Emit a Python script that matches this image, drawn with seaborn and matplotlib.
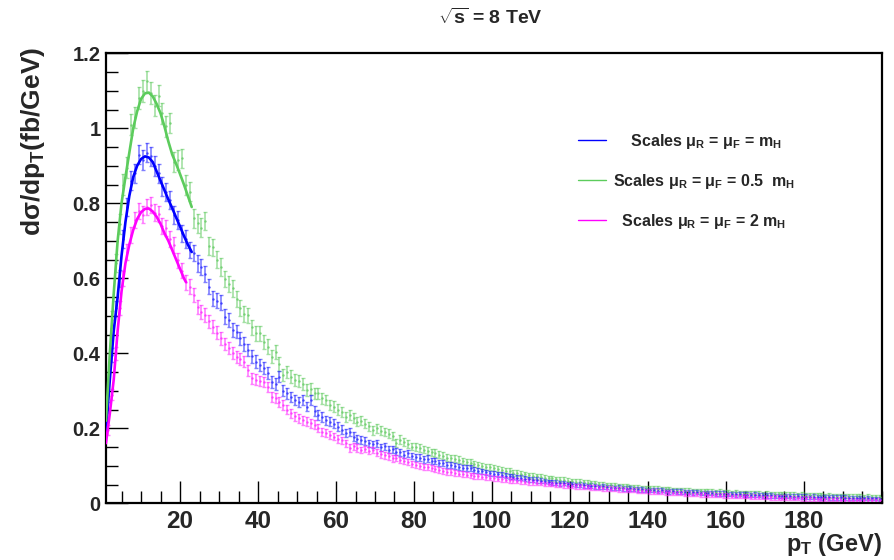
import numpy as np
import pandas as pd
import matplotlib
matplotlib.use("Agg")
import matplotlib.pyplot as plt
from matplotlib.lines import Line2D
from matplotlib.ticker import FixedLocator, MultipleLocator, FuncFormatter
import seaborn as sns

# ---------------- data ----------------
series_names = ["Scales \u03bc$_\\mathrm{R}$ = \u03bc$_\\mathrm{F}$ = m$_\\mathrm{H}$",
                "Scales \u03bc$_\\mathrm{R}$ = \u03bc$_\\mathrm{F}$ = 0.5  m$_\\mathrm{H}$",
                "Scales \u03bc$_\\mathrm{R}$ = \u03bc$_\\mathrm{F}$ = 2 m$_\\mathrm{H}$"]

# histogram binning: 1 GeV bins from 1 to 200 GeV
pt_lo, pt_hi, bin_w = 1.0, 200.0, 1.0

# bin contents in units of 1e-3 fb/GeV
blue_pts = [255, 395, 520, 600, 705, 790, 860, 880, 930, 915,
            935, 925, 900, 880, 845, 830, 810, 770, 755, 720,
            705, 675, 668, 640, 630, 612, 578, 545, 540, 535,
            498, 489, 462, 458, 440, 425, 409, 392, 378, 369,
            360, 347, 324, 318, 338, 300, 293, 284, 275, 270,
            275, 258, 275, 246, 236, 230, 222, 218, 212, 204,
            196, 187, 190, 178, 172, 169, 166, 160, 157, 160,
            149, 152, 143, 144, 138, 136, 130, 133, 126, 123,
            122, 117, 119, 113, 112, 108, 107, 103, 101, 100,
            97, 95, 93, 94, 89, 87, 85, 83, 80, 79,
            77, 76, 74, 72, 71, 68, 68, 66, 64, 63,
            62, 60, 59, 57, 55, 55, 53, 54, 51, 51,
            49, 50, 48, 46, 47, 45, 44, 45, 43, 42,
            41, 42, 40, 39, 40, 38, 37, 37, 36, 35,
            35, 34, 35, 33, 32, 33, 31, 31, 30, 30,
            29, 30, 28, 28, 27, 28, 26, 26, 26, 25,
            25, 24, 25, 23, 23, 22, 23, 22, 21, 21,
            21, 20, 20, 19, 20, 19, 18, 19, 18, 18,
            17, 18, 17, 16, 17, 16, 16, 15, 16, 15,
            15, 14, 15, 14, 13, 14, 13, 13, 12]

green_pts = [305, 490, 640, 745, 850, 895, 1010, 1030, 1080, 1100,
             1125, 1095, 1060, 1087, 1040, 1006, 1015, 911, 915, 920,
             849, 831, 760, 747, 735, 754, 687, 683, 650, 630,
             598, 585, 573, 545, 520, 505, 502, 470, 453, 453,
             430, 418, 391, 404, 372, 342, 350, 338, 329, 325,
             318, 302, 305, 293, 293, 280, 275, 262, 258, 250,
             244, 231, 236, 227, 218, 220, 212, 205, 195, 200,
             193, 191, 186, 180, 160, 170, 163, 158, 151, 150,
             147, 143, 140, 136, 134, 130, 127, 122, 120, 119,
             116, 113, 110, 108, 105, 103, 99, 98, 96, 93,
             91, 89, 86, 85, 82, 80, 79, 77, 75, 73,
             72, 70, 68, 67, 67, 64, 63, 62, 60, 59,
             58, 58, 56, 55, 53, 53, 51, 50, 49, 49,
             48, 46, 46, 45, 43, 44, 42, 41, 40, 41,
             39, 39, 38, 37, 37, 36, 35, 35, 34, 34,
             33, 33, 32, 32, 31, 31, 30, 31, 29, 29,
             28, 29, 27, 28, 27, 26, 27, 26, 25, 26,
             25, 24, 25, 24, 23, 24, 23, 22, 23, 22,
             22, 21, 22, 21, 20, 21, 20, 19, 20, 19,
             19, 18, 19, 18, 17, 18, 17, 17, 16]

magenta_pts = [195, 290, 400, 520, 600, 670, 715, 755, 780, 770,
               790, 795, 775, 772, 740, 735, 705, 688, 648, 620,
               590, 578, 555, 524, 510, 502, 485, 471, 455, 440,
               425, 413, 400, 391, 385, 378, 355, 333, 330, 326,
               324, 310, 284, 280, 271, 262, 250, 240, 232, 227,
               222, 218, 213, 210, 200, 191, 187, 182, 178, 172,
               168, 160, 147, 152, 148, 142, 145, 140, 142, 135,
               131, 128, 125, 120, 122, 116, 112, 110, 105, 102,
               100, 98, 96, 94, 91, 89, 87, 84, 83, 82,
               79, 78, 76, 75, 73, 72, 71, 70, 68, 67,
               66, 65, 63, 62, 61, 60, 59, 58, 57, 56,
               55, 54, 52, 51, 51, 49, 49, 48, 47, 46,
               45, 45, 44, 43, 42, 42, 41, 40, 39, 39,
               38, 37, 37, 36, 35, 35, 34, 33, 33, 32,
               31, 31, 30, 29, 29, 28, 28, 27, 26, 26,
               25, 25, 24, 24, 23, 23, 22, 22, 21, 21,
               20, 20, 19, 19, 19, 18, 18, 17, 17, 17,
               16, 16, 15, 15, 15, 14, 14, 14, 13, 13,
               13, 12, 12, 12, 11, 11, 11, 11, 10, 10,
               10, 10, 9, 9, 9, 9, 8, 8, 8]

# statistical errors (half length), units of 1e-3 fb/GeV
blue_err = [15, 18, 20, 22, 23, 24, 25, 25, 26, 26,
            26, 26, 26, 25, 25, 25, 24, 24, 24, 23,
            23, 22, 22, 22, 21, 21, 21, 20, 20, 20,
            19, 19, 19, 18, 18, 18, 17, 17, 17, 17,
            16, 16, 16, 15, 15, 15, 15, 14, 14, 14,
            14, 13, 13, 13, 13, 13, 12, 12, 12, 12,
            12, 11, 11, 11, 11, 11, 11, 10, 10, 10,
            10, 10, 10, 10, 9, 9, 9, 9, 9, 9,
            9, 9, 9, 8, 8, 8, 8, 8, 8, 8,
            8, 8, 8, 8, 7, 7, 7, 7, 7, 7,
            7, 7, 7, 7, 7, 7, 7, 7, 7, 7,
            7, 7, 6, 6, 6, 6, 6, 6, 6, 6,
            6, 6, 6, 6, 6, 6, 6, 6, 6, 6,
            6, 6, 6, 6, 6, 6, 6, 6, 6, 6,
            6, 6, 6, 6, 6, 6, 6, 6, 6, 6,
            6, 6, 6, 6, 6, 6, 6, 6, 6, 6,
            6, 6, 6, 6, 6, 6, 6, 6, 6, 6,
            6, 6, 6, 6, 6, 6, 6, 6, 6, 6,
            6, 6, 6, 6, 6, 6, 6, 6, 6, 6,
            5, 5, 5, 5, 5, 5, 5, 5, 5]

green_err = [18, 22, 24, 26, 27, 28, 28, 28, 29, 29,
             29, 29, 28, 28, 28, 28, 27, 27, 27, 26,
             26, 26, 25, 25, 25, 24, 24, 23, 23, 23,
             22, 22, 22, 21, 21, 21, 20, 20, 20, 19,
             19, 19, 18, 18, 18, 17, 17, 17, 16, 16,
             16, 16, 15, 15, 15, 15, 14, 14, 14, 14,
             13, 13, 13, 13, 13, 12, 12, 12, 12, 12,
             12, 11, 11, 11, 11, 11, 11, 10, 10, 10,
             10, 10, 10, 10, 10, 9, 9, 9, 9, 9,
             9, 9, 9, 9, 8, 8, 8, 8, 8, 8,
             8, 8, 8, 8, 8, 8, 7, 7, 7, 7,
             7, 7, 7, 7, 7, 7, 7, 7, 7, 7,
             7, 7, 7, 7, 7, 6, 6, 6, 6, 6,
             6, 6, 6, 6, 6, 6, 6, 6, 6, 6,
             6, 6, 6, 6, 6, 6, 6, 6, 6, 6,
             6, 6, 6, 6, 6, 6, 6, 6, 6, 6,
             6, 6, 6, 6, 6, 6, 6, 6, 6, 6,
             6, 6, 6, 6, 6, 6, 6, 6, 6, 6,
             6, 6, 6, 6, 6, 6, 6, 6, 6, 6,
             6, 6, 6, 6, 6, 6, 6, 6, 6]

magenta_err = [13, 15, 17, 19, 20, 21, 22, 22, 22, 22,
               22, 22, 22, 22, 21, 21, 21, 21, 20, 20,
               20, 19, 19, 19, 18, 18, 18, 17, 17, 17,
               16, 16, 16, 16, 15, 15, 15, 15, 14, 14,
               14, 14, 13, 13, 13, 13, 12, 12, 12, 12,
               12, 12, 11, 11, 11, 11, 11, 11, 10, 10,
               10, 10, 10, 10, 10, 9, 9, 9, 9, 9,
               9, 9, 9, 9, 8, 8, 8, 8, 8, 8,
               8, 8, 8, 8, 8, 8, 8, 8, 8, 8,
               7, 7, 7, 7, 7, 7, 7, 7, 7, 7,
               7, 7, 7, 7, 7, 7, 7, 7, 7, 7,
               6, 6, 6, 6, 6, 6, 6, 6, 6, 6,
               6, 6, 6, 6, 6, 6, 6, 6, 6, 6,
               6, 6, 6, 6, 6, 6, 6, 6, 6, 6,
               6, 6, 6, 6, 6, 6, 6, 6, 6, 6,
               6, 6, 6, 6, 6, 6, 6, 6, 6, 6,
               6, 6, 6, 6, 6, 6, 6, 6, 6, 6,
               6, 6, 6, 6, 6, 6, 6, 6, 6, 6,
               6, 6, 6, 6, 6, 6, 6, 6, 6, 6,
               5, 5, 5, 5, 5, 5, 5, 5, 5]

# smooth low-pT curves (fb/GeV)
blue_curve_x = [1, 2, 3, 4, 5, 6, 7, 8, 9, 10, 11, 12, 13, 14, 15, 16, 17, 18, 19, 20, 21, 22, 23]
blue_curve = [0.19, 0.33, 0.46, 0.55, 0.66, 0.75, 0.82, 0.87, 0.90, 0.918, 0.925, 0.922,
              0.91, 0.885, 0.86, 0.835, 0.81, 0.787, 0.762, 0.738, 0.713, 0.69, 0.67]
green_curve_x = [1, 2, 3, 4, 5, 6, 7, 8, 9, 10, 11, 12, 13, 14, 15, 16, 17, 18, 19, 20, 21, 22, 23]
green_curve = [0.22, 0.40, 0.56, 0.70, 0.80, 0.87, 0.935, 1.0, 1.045, 1.078, 1.093, 1.095,
               1.085, 1.065, 1.04, 1.005, 0.965, 0.93, 0.905, 0.878, 0.85, 0.82, 0.79]
magenta_curve_x = [1, 2, 3, 4, 5, 6, 7, 8, 9, 10, 11, 12, 13, 14, 15, 16, 17, 18, 19, 20, 21, 21.5]
magenta_curve = [0.16, 0.24, 0.33, 0.46, 0.565, 0.64, 0.69, 0.729, 0.758, 0.776, 0.785, 0.786,
                 0.778, 0.764, 0.745, 0.72, 0.70, 0.675, 0.65, 0.625, 0.60, 0.59]

x_tick_vals = [20, 40, 60, 80, 100, 120, 140, 160, 180]
y_tick_vals = [0, 0.2, 0.4, 0.6, 0.8, 1.0, 1.2]

# ---------------- style ----------------
sns.set_theme(style="white")
plt.rcParams["font.family"] = ["Liberation Sans", "DejaVu Sans"]
plt.rcParams["font.weight"] = "bold"
plt.rcParams["mathtext.fontset"] = "custom"
plt.rcParams["mathtext.rm"] = "Liberation Sans:bold"
plt.rcParams["mathtext.bf"] = "Liberation Sans:bold"
plt.rcParams["mathtext.it"] = "Liberation Sans:bold"
plt.rcParams["mathtext.sf"] = "Liberation Sans:bold"

line_cols = {"blue": "#0000ff", "green": "#5ccc5c", "magenta": "#ff00ff"}
err_cols = {"blue": "#2a2aff", "green": "#66cc66", "magenta": "#ff2aff"}

centers = np.arange(pt_lo + bin_w / 2, pt_hi, bin_w)

fig = plt.figure(figsize=(8.94, 5.6), dpi=100)
ax = fig.add_axes([0.1185, 0.1013, 0.8680, 0.8036])

pts = {"blue": (blue_pts, blue_err), "green": (green_pts, green_err),
       "magenta": (magenta_pts, magenta_err)}
for key in ["green", "blue", "magenta"]:
    v, e = pts[key]
    v = np.asarray(v, float) / 1000.0
    e = np.asarray(e, float) / 1000.0
    n = min(len(centers), len(v), len(e))
    ax.errorbar(centers[:n], v[:n], yerr=e[:n], fmt="none", ecolor=err_cols[key],
                elinewidth=1.2, capsize=1.7, capthick=1.0, alpha=0.6, zorder=2)
    sns.scatterplot(x=centers[:n], y=v[:n], ax=ax, color=err_cols[key], s=3,
                    linewidth=0, alpha=0.8, zorder=3, legend=False)

curve_df = pd.concat([
    pd.DataFrame({"pt": blue_curve_x, "val": blue_curve, "series": "blue"}),
    pd.DataFrame({"pt": green_curve_x, "val": green_curve, "series": "green"}),
    pd.DataFrame({"pt": magenta_curve_x, "val": magenta_curve, "series": "magenta"}),
])
sns.lineplot(data=curve_df, x="pt", y="val", hue="series", palette=line_cols,
             estimator=None, sort=False, linewidth=1.9, ax=ax, legend=False, zorder=4)

ax.set_xlim(pt_lo, pt_hi)
ax.set_ylim(0, 1.2)

ax.xaxis.set_major_locator(FixedLocator(x_tick_vals))
ax.xaxis.set_minor_locator(MultipleLocator(5))
ax.yaxis.set_major_locator(FixedLocator(y_tick_vals))
ax.yaxis.set_minor_locator(MultipleLocator(0.05))
ax.yaxis.set_major_formatter(FuncFormatter(lambda v, p: "%g" % round(v, 2)))

ax.tick_params(axis="both", which="major", direction="in", length=16, width=1.0,
               color="black", top=False, right=False, bottom=True, left=True)
ax.tick_params(axis="both", which="minor", direction="in", length=8.5, width=1.0,
               color="black", top=False, right=False, bottom=True, left=True)
ax.tick_params(axis="x", which="major", labelsize=17.5, pad=5)
ax.tick_params(axis="y", which="major", labelsize=14.5, pad=4)
for lab in ax.get_xticklabels() + ax.get_yticklabels():
    lab.set_fontweight("bold")

for sp in ax.spines.values():
    sp.set_color("black")
    sp.set_linewidth(1.6)

ax.set_xlabel("p$_\\mathrm{T}$ (GeV)", fontsize=17, fontweight="bold")
ax.xaxis.set_label_coords(1.0, -0.062)
ax.xaxis.label.set_horizontalalignment("right")

ax.set_ylabel("d\u03c3/dp$_\\mathrm{T}$(fb/GeV)", fontsize=19, fontweight="bold")
ax.yaxis.set_label_coords(-0.076, 1.014)
ax.yaxis.label.set_horizontalalignment("right")

fig.text(0.549, 1 - 18 / 560, "$\\sqrt{s}$ = 8 TeV", ha="center", va="center",
         fontsize=14, fontweight="bold")

handles = [Line2D([], [], color=line_cols[k], lw=1.0) for k in ["blue", "green", "magenta"]]
labels = ["    " + series_names[0], series_names[1], "  " + series_names[2]]
ax.legend(handles, labels, loc="upper left", bbox_to_anchor=(0.608, 0.825),
          frameon=False, prop={"weight": "bold", "size": 11.5}, handlelength=1.8,
          handletextpad=0.4, labelspacing=1.3, borderpad=0, borderaxespad=0)

fig.savefig("out.png", dpi=100, facecolor="white")
